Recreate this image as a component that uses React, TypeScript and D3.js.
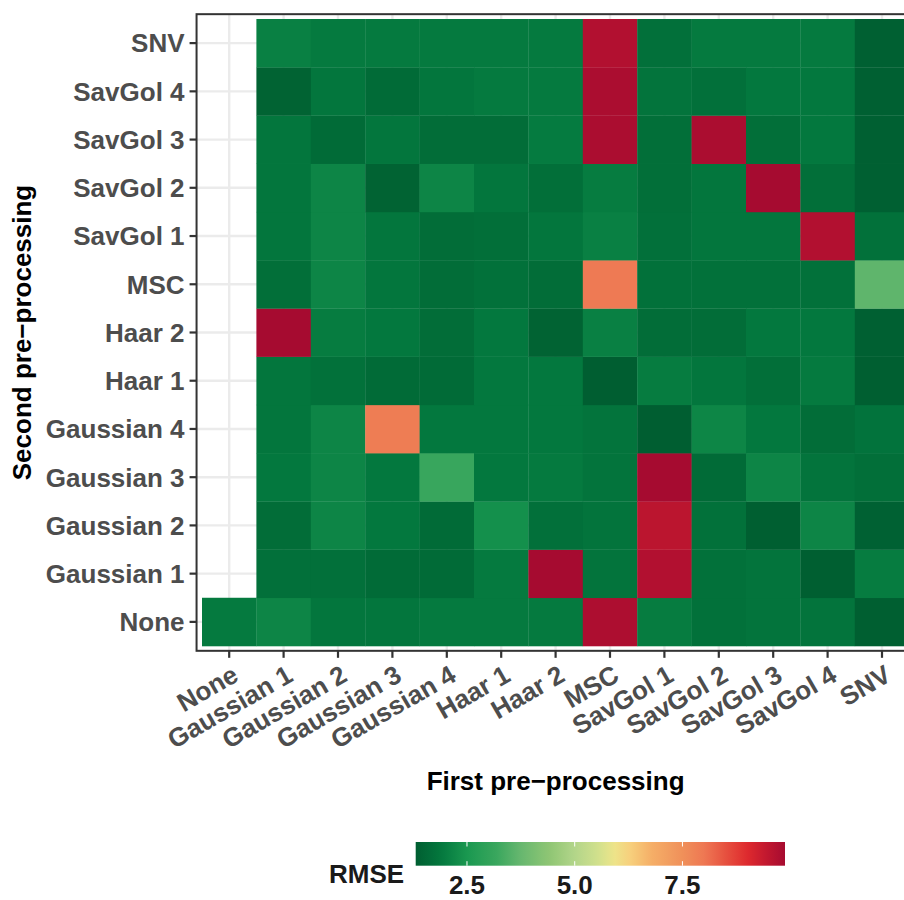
import React from "react";
import * as d3 from "d3";

const firstLevels = ["None", "Gaussian 1", "Gaussian 2", "Gaussian 3", "Gaussian 4", "Haar 1", "Haar 2", "MSC", "SavGol 1", "SavGol 2", "SavGol 3", "SavGol 4", "SNV"];
const secondLevels = ["None", "Gaussian 1", "Gaussian 2", "Gaussian 3", "Gaussian 4", "Haar 1", "Haar 2", "MSC", "SavGol 1", "SavGol 2", "SavGol 3", "SavGol 4", "SNV"];

// RMSE values: one array per second pre-processing, ordered by first pre-processing
const rmseNone = [1.94, 2.15, 1.86, 1.86, 1.94, 1.94, 1.94, 9.77, 1.98, 1.74, 1.81, 1.81, 1.33];
const rmseGaussian1 = [null, 1.72, 1.72, 1.6, 1.6, 1.94, 9.88, 1.81, 9.7, 1.74, 1.81, 1.33, 1.98];
const rmseGaussian2 = [null, 1.65, 2.15, 1.9, 1.6, 2.35, 1.72, 1.81, 9.55, 1.74, 1.33, 2.15, 1.38];
const rmseGaussian3 = [null, 1.9, 2.15, 1.9, 3.15, 1.9, 1.94, 1.81, 9.88, 1.6, 2.15, 1.81, 1.69];
const rmseGaussian4 = [null, 1.86, 2.15, 7.9, 1.9, 1.9, 1.9, 1.81, 1.31, 2.17, 1.9, 1.65, 1.79];
const rmseHaar1 = [null, 1.86, 1.74, 1.6, 1.6, 1.9, 1.9, 1.31, 1.98, 1.86, 1.69, 1.94, 1.33];
const rmseHaar2 = [null, 9.88, 1.98, 1.9, 1.65, 1.9, 1.42, 2.05, 1.65, 1.65, 1.9, 1.9, 1.36];
const rmseMSC = [null, 1.69, 2.15, 1.86, 1.65, 1.74, 1.64, 7.95, 1.74, 1.74, 1.74, 1.74, 3.65];
const rmseSavGol1 = [null, 1.86, 2.15, 1.86, 1.65, 1.69, 1.86, 2.05, 1.72, 1.86, 1.86, 9.7, 1.74];
const rmseSavGol2 = [null, 1.86, 2.15, 1.42, 2.15, 1.86, 1.69, 1.98, 1.69, 1.86, 9.88, 1.69, 1.36];
const rmseSavGol3 = [null, 1.86, 1.6, 1.86, 1.65, 1.65, 1.95, 9.8, 1.69, 9.8, 1.69, 1.9, 1.36];
const rmseSavGol4 = [null, 1.42, 1.86, 1.6, 1.86, 1.94, 1.94, 9.8, 1.81, 1.72, 1.9, 1.9, 1.36];
const rmseSNV = [null, 2.05, 1.94, 1.94, 1.94, 1.94, 1.94, 9.7, 1.72, 1.94, 1.94, 1.94, 1.36];

const rowsBySecond = [rmseNone, rmseGaussian1, rmseGaussian2, rmseGaussian3, rmseGaussian4, rmseHaar1, rmseHaar2, rmseMSC, rmseSavGol1, rmseSavGol2, rmseSavGol3, rmseSavGol4, rmseSNV];

const legendTicks = [2.5, 5.0, 7.5];

// colour ramp (RMSE -> colour)
const rampValues = [1.31, 1.9, 2.5, 3.2, 3.73, 4.43, 5.0, 5.52, 5.9, 6.3, 6.76, 7.5, 8.0, 8.6, 9.0, 9.47, 9.9];
const rampColors = ["#005e31", "#03783e", "#1a9850", "#3aa75e", "#66b76f", "#90c674", "#b3d58a", "#cfe08c", "#ede58a", "#f7cf7c", "#f5b068", "#f0905a", "#ee7853", "#e5493c", "#de2a2e", "#c0172f", "#a50a30"];

type Cell = { first: string; second: string; value: number };

const cells: Cell[] = [];
secondLevels.forEach((s, i) => {
  rowsBySecond[i].forEach((v, j) => {
    if (v !== null && v !== undefined) cells.push({ first: firstLevels[j], second: s, value: v as number });
  });
});

const FONT = "'Liberation Sans', Arial, Helvetica, sans-serif";

export default function App() {
  const W = 904;
  const H = 900;
  const tileLeft = 202;
  const bandW = 54.4;
  const tileTop = 19;
  const bandH = 48.23;

  const x = d3.scaleBand<string>().domain(firstLevels).range([tileLeft, tileLeft + bandW * firstLevels.length]).padding(0);
  const y = d3.scaleBand<string>().domain([...secondLevels].reverse()).range([tileTop, tileTop + bandH * secondLevels.length]).padding(0);

  const panelL = tileLeft - 0.1 * bandW;
  const panelR = tileLeft + bandW * firstLevels.length + 0.1 * bandW;
  const panelT = tileTop - 0.1 * bandH;
  const panelB = tileTop + bandH * secondLevels.length + 0.1 * bandH;

  const color = d3.scaleLinear<string>().domain(rampValues).range(rampColors).interpolate(d3.interpolateRgb).clamp(true);

  const ext = d3.extent(cells, (d) => d.value) as [number, number];
  const lx = d3.scaleLinear().domain(ext).range([415.7, 785]);
  const barTop = 842;
  const barH = 23.7;

  const gradStops = d3.range(0, 1.0001, 0.02).map((t) => {
    const v = ext[0] + t * (ext[1] - ext[0]);
    return { offset: t, c: color(v) };
  });

  const tickLen = 7;
  const fs = 26;

  return (
    <svg width={W} height={H} style={{ position: "absolute", left: 0, top: 0, background: "#fff" }} fontFamily={FONT}>
      <defs>
        <linearGradient id="rmseGrad" x1="0" x2="1" y1="0" y2="0">
          {gradStops.map((s, i) => (
            <stop key={i} offset={s.offset} stopColor={s.c} />
          ))}
        </linearGradient>
        <clipPath id="panelClip">
          <rect x={panelL} y={panelT} width={panelR - panelL} height={panelB - panelT} />
        </clipPath>
      </defs>

      {/* panel background + grid */}
      <rect x={panelL} y={panelT} width={panelR - panelL} height={panelB - panelT} fill="#fff" />
      <g clipPath="url(#panelClip)">
        {firstLevels.map((f) => (
          <line key={"gx" + f} x1={x(f)! + bandW / 2} x2={x(f)! + bandW / 2} y1={panelT} y2={panelB} stroke="#ebebeb" strokeWidth={2.4} />
        ))}
        {secondLevels.map((s) => (
          <line key={"gy" + s} y1={y(s)! + bandH / 2} y2={y(s)! + bandH / 2} x1={panelL} x2={panelR} stroke="#ebebeb" strokeWidth={2.4} />
        ))}
        {cells.map((c) => (
          <rect key={c.first + "|" + c.second} x={x(c.first)!} y={y(c.second)!} width={bandW + 0.3} height={bandH + 0.3} fill={color(c.value)} />
        ))}
      </g>
      <rect x={panelL} y={panelT} width={panelR - panelL} height={panelB - panelT} fill="none" stroke="#333333" strokeWidth={2} />

      {/* y axis */}
      {secondLevels.map((s) => {
        const cy = y(s)! + bandH / 2;
        return (
          <g key={"ya" + s}>
            <line x1={panelL - tickLen} x2={panelL} y1={cy} y2={cy} stroke="#333333" strokeWidth={2.2} />
            <text x={panelL - tickLen - 5} y={cy} dy="0.36em" textAnchor="end" fontSize={fs} fontWeight="bold" fill="#4d4d4d">
              {s}
            </text>
          </g>
        );
      })}

      {/* x axis */}
      {firstLevels.map((f) => {
        const cx = x(f)! + bandW / 2;
        return (
          <g key={"xa" + f}>
            <line x1={cx} x2={cx} y1={panelB} y2={panelB + tickLen} stroke="#333333" strokeWidth={2.2} />
            <text transform={`translate(${cx + 1},${panelB + tickLen + 5}) rotate(-30)`} dy="0.76em" textAnchor="end" fontSize={fs} fontWeight="bold" fill="#4d4d4d">
              {f}
            </text>
          </g>
        );
      })}

      {/* axis titles */}
      <text x={(panelL + panelR) / 2} y={790} textAnchor="middle" fontSize={fs} fontWeight="bold" fill="#000">
        First pre−processing
      </text>
      <text transform={`translate(31,${(panelT + panelB) / 2}) rotate(-90)`} textAnchor="middle" fontSize={fs} fontWeight="bold" fill="#000">
        Second pre−processing
      </text>

      {/* legend */}
      <text x={329} y={882.5} fontSize={fs} fontWeight="bold" fill="#1a1a1a">
        RMSE
      </text>
      <rect x={lx(ext[0])} y={barTop} width={lx(ext[1]) - lx(ext[0])} height={barH} fill="url(#rmseGrad)" />
      {legendTicks.map((t) => (
        <g key={"lt" + t}>
          <line x1={lx(t)} x2={lx(t)} y1={barTop} y2={barTop + 4.5} stroke="#fff" strokeWidth={1} />
          <line x1={lx(t)} x2={lx(t)} y1={barTop + barH - 4.5} y2={barTop + barH} stroke="#fff" strokeWidth={1} />
          <text x={lx(t)} y={894} textAnchor="middle" fontSize={fs} fontWeight="bold" fill="#1a1a1a">
            {d3.format(".1f")(t)}
          </text>
        </g>
      ))}
    </svg>
  );
}
